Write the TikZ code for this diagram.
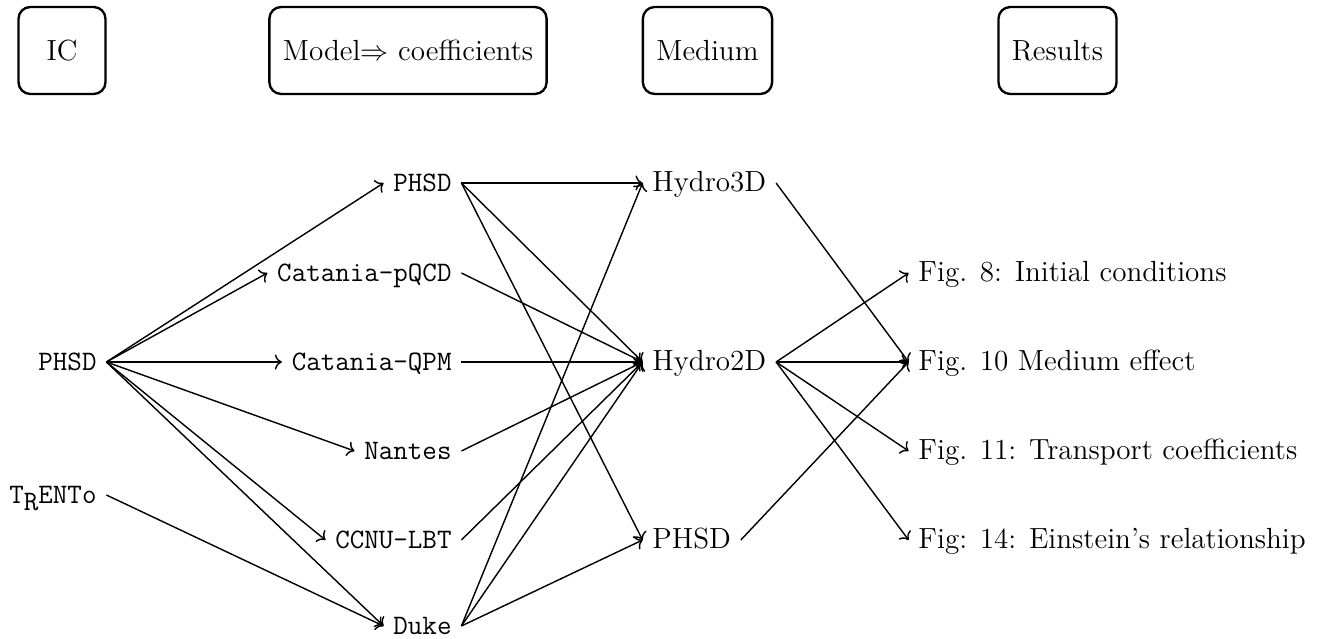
\documentclass[tikz,border=0pt]{standalone}
\usetikzlibrary{arrows.meta}
\begin{document}
\begin{tikzpicture}[x=0.4255pt,y=-0.4255pt,
  hdr/.style={draw, line width=1pt, rounded corners=5pt, font=\fontsize{12.4}{15}\selectfont, minimum width=37pt, minimum height=37pt, inner xsep=5.75pt, inner ysep=3.33pt},
  lab/.style={font=\fontsize{12.4}{15}\selectfont, inner sep=4pt, text height=7.3pt, text depth=0pt},
  tlab/.style={lab, font=\large\ttfamily},
  conn/.style={-{Computer Modern Rightarrow[length=3pt,width=6.4pt]}, line width=0.6pt},
]
\useasboundingbox (0,0) rectangle (1318,639);
% header boxes
\node[hdr] (b1) at (62,50.5) {IC};
\node[hdr] (b2) at (408,50.5) {Model$\Rightarrow$ coefficients};
\node[hdr] (b3) at (707.5,50.5) {Medium};
\node[hdr] (b4) at (1057.5,50.5) {Results};
% initial conditions
\node[tlab, anchor=east] (ic1) at (106.4,362) {PHSD};
\node[tlab, anchor=east] (ic2) at (106.4,495) {T\raisebox{-3pt}{R}ENTo};
% models
\node[tlab, anchor=east] (m1) at (461.4,183) {PHSD};
\node[tlab, anchor=east] (m2) at (461.4,273) {Catania-pQCD};
\node[tlab, anchor=east] (m3) at (461.4,362) {Catania-QPM};
\node[tlab, anchor=east] (m4) at (461.4,451) {Nantes};
\node[tlab, anchor=east] (m5) at (461.4,540) {CCNU-LBT};
\node[tlab, anchor=east] (m6) at (461.4,626) {Duke};
% medium
\node[lab, anchor=west] (h3) at (642.6,183) {Hydro3D};
\node[lab, anchor=west] (h2) at (642.6,362) {Hydro2D};
\node[lab, anchor=west] (ph) at (642.6,540) {PHSD};
% results
\node[lab, anchor=west] (f8) at (908.6,273) {Fig. 8: Initial conditions};
\node[lab, anchor=west] (f10) at (908.6,362) {Fig. 10 Medium effect};
\node[lab, anchor=west] (f11) at (908.6,451) {Fig. 11: Transport coefficients};
\node[lab, anchor=west] (f14) at (908.6,540) {Fig: 14: Einstein's relationship};
% connectors
\foreach \t in {m1,m2,m3,m4,m5,m6} \draw[conn] (ic1.east) -- (\t.west);
\draw[conn] (ic2.east) -- (m6.west);
\foreach \t in {h3,h2,ph} \draw[conn] (m1.east) -- (\t.west);
\foreach \s in {m2,m3,m4,m5} \draw[conn] (\s.east) -- (h2.west);
\foreach \t in {h3,h2,ph} \draw[conn] (m6.east) -- (\t.west);
\draw[conn] (h3.east) -- (f10.west);
\foreach \t in {f8,f10,f11,f14} \draw[conn] (h2.east) -- (\t.west);
\draw[conn] (ph.east) -- (f10.west);
\end{tikzpicture}
\end{document}
